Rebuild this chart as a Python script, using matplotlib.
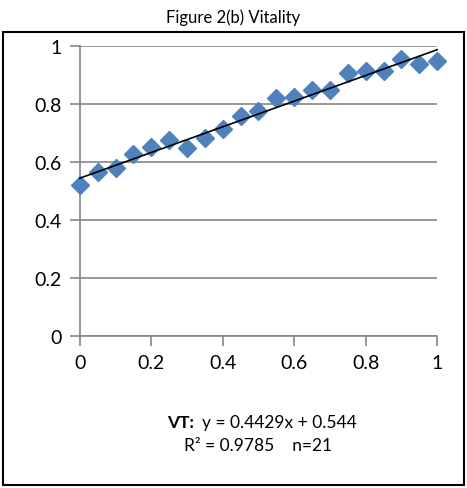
import numpy as np
import matplotlib
matplotlib.use("Agg")
import matplotlib.pyplot as plt
from matplotlib.patches import Rectangle

# data
x = [0.0, 0.05, 0.1, 0.15, 0.2, 0.25, 0.3, 0.35, 0.4, 0.45, 0.5,
     0.55, 0.6, 0.65, 0.7, 0.75, 0.8, 0.85, 0.9, 0.95, 1.0]
vt = [0.521, 0.564, 0.578, 0.628, 0.651, 0.674, 0.647, 0.682, 0.714, 0.760, 0.777,
      0.820, 0.825, 0.849, 0.849, 0.906, 0.913, 0.914, 0.955, 0.938, 0.947]
slope = 0.4429
intercept = 0.544
xticks = [0, 0.2, 0.4, 0.6, 0.8, 1]
yticks = [0, 0.2, 0.4, 0.6, 0.8, 1]

plt.rcParams['font.family'] = ['Lato', 'DejaVu Sans']
grey = '#868686'

fig = plt.figure(figsize=(4.67, 4.89), dpi=100)
ax = fig.add_axes([0.171, 0.311, 0.765, 0.593])

ax.plot(x, vt, linestyle='none', marker='D', markersize=9.5,
        color='#4F81BD', zorder=3, clip_on=False)
xx = np.array([0.0, 1.0])
ax.plot(xx, slope * xx + intercept, color='black', linewidth=1.2, zorder=4, clip_on=False)

ax.set_xlim(0, 1)
ax.set_ylim(0, 1)
ax.set_xticks(xticks)
ax.set_yticks(yticks)
ax.set_xticklabels(['0', '0.2', '0.4', '0.6', '0.8', '1'])
ax.set_yticklabels(['0', '0.2', '0.4', '0.6', '0.8', '1'])
ax.yaxis.grid(True, color=grey, linewidth=1.2)
ax.set_axisbelow(True)
for s in ['top', 'right']:
    ax.spines[s].set_visible(False)
for s in ['left', 'bottom']:
    ax.spines[s].set_color(grey)
    ax.spines[s].set_linewidth(1.2)
ax.tick_params(axis='both', colors=grey, length=7, width=1.2,
               labelcolor='black', labelsize=14, pad=6)
for lab in ax.get_xticklabels() + ax.get_yticklabels():
    lab.set_color('black')

fig.text(0.5, 0.963, 'Figure 2(b) Vitality', ha='center', va='center', fontsize=12)
fig.text(0.358, 0.135, 'VT:', ha='left', va='center', fontsize=12.5, fontweight='bold')
fig.text(0.433, 0.135, 'y = 0.4429x + 0.544', ha='left', va='center', fontsize=12.5)
fig.text(0.553, 0.088, 'R² = 0.9785    n=21', ha='center', va='center', fontsize=12.5)

fig.patches.append(Rectangle((0.007, 0.006), 0.986, 0.926, transform=fig.transFigure,
                             fill=False, edgecolor='black', linewidth=1.5))

fig.savefig('out.png', dpi=100)
